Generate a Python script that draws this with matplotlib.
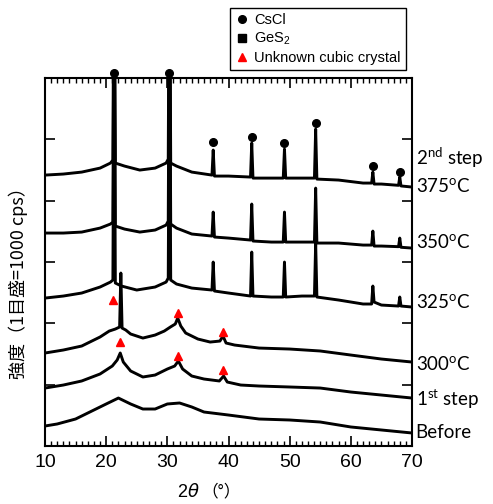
# ------------------------------------------------------------
# XRD patterns of the heat-treated samples (stacked, 1 div = 1000 cps)
# ------------------------------------------------------------
import matplotlib.pyplot as plt
from matplotlib.lines import Line2D
from matplotlib.transforms import blended_transform_factory
from matplotlib.ticker import MultipleLocator

# -------------------------------
# 1. DATA (2theta in deg, intensity in cps incl. stacking offset)
# -------------------------------
before_2t = [10, 12, 15, 18, 20, 22, 24, 26, 28, 30, 32, 34, 36, 40, 45, 50, 55, 60, 65, 70]
before_cps = [326, 359, 440, 587, 685, 782, 685, 603, 603, 685, 701, 636, 554, 505, 440, 424,
              391, 310, 261, 212]

step1_2t = [10, 13, 16, 19, 21, 21.8, 22.3, 22.8, 24, 26, 28, 30, 31.2, 31.8, 32.5, 34, 36,
            38.5, 39.2, 39.8, 42, 45, 50, 55, 60, 65, 70]
step1_cps = [945, 994, 1060, 1174, 1304, 1402, 1516, 1369, 1223, 1125, 1157, 1255, 1304, 1386,
             1255, 1141, 1092, 1060, 1141, 1043, 994, 978, 962, 945, 880, 831, 782]

t300_2t = [10, 13, 16, 19, 20.5, 21.5, 22.2, 22.4, 22.6, 23.2, 24, 26, 28, 29.5, 30.5, 31.3,
           31.7, 32.2, 33, 35, 37, 38.6, 39.1, 39.6, 41, 45, 50, 55, 60, 65, 70]
t300_cps = [1516, 1565, 1630, 1777, 1874, 1907, 1940, 2820, 1923, 1891, 1826, 1760, 1809, 1874,
            1940, 1989, 2086, 1956, 1842, 1744, 1695, 1711, 1793, 1679, 1646, 1597, 1581, 1549,
            1483, 1418, 1369]

t325_2t = [10, 13, 16, 19, 20.7, 21.1, 21.3, 21.5, 22.5, 25, 28, 29.8, 30.15, 30.35, 30.55,
           31.5, 34, 37.3, 37.5, 37.7, 40, 43.6, 43.8, 44.0, 47, 48.95, 49.15, 49.35, 52, 54.05,
           54.25, 54.45, 58, 62, 63.4, 63.6, 63.8, 65, 67.8, 68.0, 68.2, 70]
t325_cps = [2412, 2445, 2494, 2592, 2673, 2706, 7000, 2657, 2608, 2543, 2592, 2673, 2738, 7000,
            2706, 2641, 2575, 2543, 2999, 2527, 2494, 2445, 3162, 2445, 2429, 2429, 2999, 2429,
            2445, 2445, 3309, 2429, 2380, 2315, 2315, 2608, 2347, 2298, 2282, 2429, 2282, 2266]

t350_2t = [10, 13, 16, 19, 20.7, 21.1, 21.3, 21.5, 23, 25.5, 28, 29.8, 30.15, 30.35, 30.55,
           31.5, 34, 37.3, 37.5, 37.7, 40, 43.6, 43.8, 44.0, 47, 48.95, 49.15, 49.35, 52, 54.05,
           54.25, 54.45, 58, 62, 63.4, 63.6, 63.8, 65, 67.8, 68.0, 68.2, 70]
t350_cps = [3472, 3472, 3488, 3553, 3619, 3651, 8000, 3586, 3537, 3488, 3521, 3602, 3668, 8000,
            3619, 3553, 3456, 3423, 3814, 3407, 3390, 3358, 3945, 3342, 3325, 3325, 3814, 3325,
            3325, 3325, 4205, 3309, 3309, 3276, 3276, 3504, 3260, 3260, 3250, 3390, 3240, 3227]

t375_2t = [10, 13, 16, 19, 20.7, 21.1, 21.3, 21.5, 23, 25.5, 28, 29.8, 30.15, 30.35, 30.55,
           31.5, 34, 37.3, 37.5, 37.7, 40, 43.6, 43.8, 44.0, 47, 48.95, 49.15, 49.35, 52, 54.05,
           54.25, 54.45, 58, 62, 63.4, 63.6, 63.8, 65, 67.8, 68.0, 68.2, 70]
t375_cps = [4417, 4434, 4466, 4531, 4613, 4662, 9000, 4613, 4564, 4499, 4531, 4613, 4678, 9000,
            4613, 4564, 4466, 4417, 4825, 4401, 4401, 4385, 4939, 4368, 4368, 4368, 4841, 4368,
            4368, 4368, 5167, 4352, 4336, 4287, 4287, 4466, 4271, 4271, 4250, 4385, 4240, 4222]

# peak markers
cscl_2t = [21.3, 30.35, 37.5, 43.8, 49.15, 54.25, 63.6, 68.0]
cscl_cps = [6088, 6088, 4955, 5037, 4939, 5265, 4564, 4466]

unknown_2t = [21.1, 31.7, 39.1, 22.3, 31.7, 39.1]
unknown_cps = [2380, 2168, 1858, 1695, 1467, 1239]

# labels on the right-hand side
label_texts = ["2$^\\mathregular{nd}$ step", "375$^\\mathregular{o}$C", "350$^\\mathregular{o}$C",
               "325$^\\mathregular{o}$C", "300$^\\mathregular{o}$C", "1$^\\mathregular{st}$ step",
               "Before"]
label_cps = [4695, 4222, 3309, 2331, 1320, 766, 228]

# -------------------------------
# 2. FIGURE
# -------------------------------
fig = plt.figure(figsize=(4.93, 5.04), dpi=100)
ax = fig.add_axes([45 / 493, 1 - 446 / 504, 367 / 493, 368 / 504])

traces = [(before_2t, before_cps), (step1_2t, step1_cps), (t300_2t, t300_cps),
          (t325_2t, t325_cps), (t350_2t, t350_cps), (t375_2t, t375_cps)]
for tt, cps in traces:
    ax.plot(tt, cps, color="black", lw=2.1)

ax.plot(cscl_2t, cscl_cps, "o", color="black", ms=5.5, clip_on=False, zorder=5)
ax.plot(unknown_2t, unknown_cps, "^", color="red", ms=6, mec="red", zorder=5)

ax.set_xlim(10, 70)
ax.set_ylim(0, 6000)
ax.xaxis.set_major_locator(MultipleLocator(10))
ax.xaxis.set_minor_locator(MultipleLocator(1))
ax.yaxis.set_major_locator(MultipleLocator(1000))
ax.tick_params(axis="x", which="major", direction="in", top=True, length=7, width=1.2,
               labelsize=14, pad=6)
ax.tick_params(axis="x", which="minor", direction="in", top=True, length=3.5, width=1)
ax.tick_params(axis="y", which="major", direction="in", right=True, length=7, width=1.2,
               labelleft=False)
for lab in ax.get_xticklabels():
    lab.set_fontfamily("Liberation Sans")
for sp in ax.spines.values():
    sp.set_linewidth(1.5)

# right-hand labels
trans = blended_transform_factory(ax.transAxes, ax.transData)
for txt, y in zip(label_texts, label_cps):
    ax.text(1.01, y, txt, transform=trans, ha="left", va="center", fontsize=13.5,
            fontfamily="Lato", clip_on=False)

# axis titles
fig.text(200 / 493, 1 - 492 / 504, "2$\\theta$", ha="right", va="center", fontsize=13,
         fontfamily="Liberation Sans")
fig.text(201 / 493, 1 - 492 / 504, "（°）", ha="left", va="center", fontsize=12,
         fontfamily="Noto Sans CJK JP")
fig.text(18 / 493, 1 - 279 / 504, "強度（1目盛=1000 cps）", ha="center", va="center",
         rotation=90, fontsize=13, fontfamily=["Noto Sans CJK JP", "DejaVu Sans"])

# legend
handles = [
    Line2D([], [], ls="none", marker="o", color="black", ms=5.5),
    Line2D([], [], ls="none", marker="s", color="black", ms=5.5),
    Line2D([], [], ls="none", marker="^", color="red", ms=6),
]
leg = fig.legend(handles, ["CsCl", "GeS$_\\mathregular{2}$", "Unknown cubic crystal"],
                 loc="upper left", bbox_to_anchor=(230 / 493, 1 - 8 / 504), borderaxespad=0,
                 fancybox=False, edgecolor="black", framealpha=1, handlelength=1,
                 handletextpad=0.3, labelspacing=0.25, borderpad=0.35,
                 prop={"family": "Liberation Sans", "size": 10.5})
leg.get_frame().set_linewidth(1.0)

fig.savefig("out.png", dpi=100)
